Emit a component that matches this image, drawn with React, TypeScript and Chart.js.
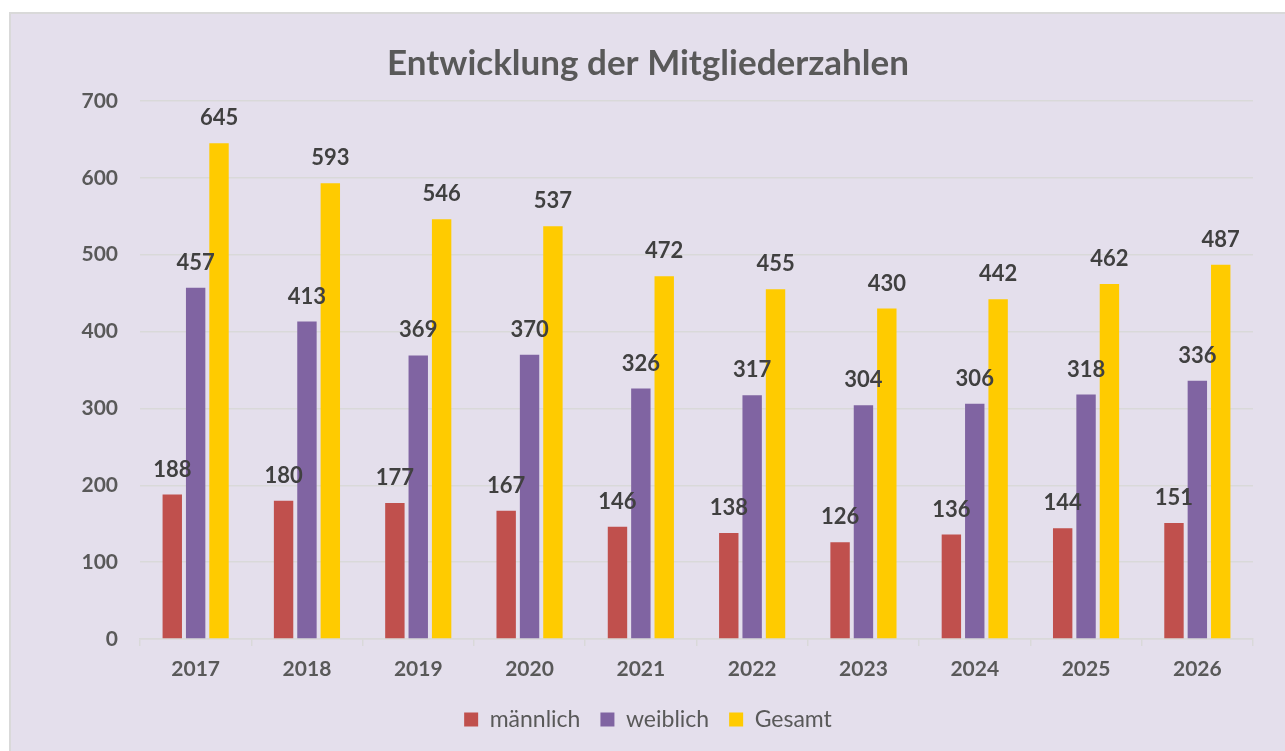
import React, { useEffect, useRef } from "react";
import { Chart, registerables } from "chart.js";

Chart.register(...registerables);

const years = ["2017", "2018", "2019", "2020", "2021", "2022", "2023", "2024", "2025", "2026"];
const maleValues = [188, 180, 177, 167, 146, 138, 126, 136, 144, 151];
const femaleValues = [457, 413, 369, 370, 326, 317, 304, 306, 318, 336];
const totalValues = [645, 593, 546, 537, 472, 455, 430, 442, 462, 487];
const seriesNames = ["männlich", "weiblich", "Gesamt"];
const titleText = "Entwicklung der Mitgliederzahlen";

const FONT = "Lato, 'Open Sans', sans-serif";

const valueLabels = {
  id: "valueLabels",
  afterDatasetsDraw(chart: any) {
    const ctx = chart.ctx;
    ctx.save();
    ctx.font = `bold 22px ${FONT}`;
    ctx.fillStyle = "#404040";
    ctx.textAlign = "center";
    ctx.textBaseline = "middle";
    chart.data.datasets.forEach((ds: any, i: number) => {
      const meta = chart.getDatasetMeta(i);
      meta.data.forEach((bar: any, j: number) => {
        ctx.fillText(String(ds.data[j]), bar.x, bar.y - 25);
      });
    });
    ctx.restore();
  },
};

export default function App() {
  const ref = useRef<HTMLCanvasElement>(null);
  useEffect(() => {
    if (!ref.current) return;
    const chart = new Chart(ref.current, {
      type: "bar",
      data: {
        labels: years,
        datasets: [
          { label: seriesNames[0], data: maleValues, backgroundColor: "#C0504D" },
          { label: seriesNames[1], data: femaleValues, backgroundColor: "#8064A2" },
          { label: seriesNames[2], data: totalValues, backgroundColor: "#FFCB00" },
        ],
      },
      options: {
        responsive: false,
        animation: false,
        layout: { padding: { left: 0, right: 0, top: 0, bottom: 10 } },
        datasets: { bar: { categoryPercentage: 0.63, barPercentage: 0.83 } },
        plugins: {
          title: {
            display: true,
            text: titleText,
            color: "#595959",
            font: { family: FONT, size: 35, weight: "bold" },
            padding: { top: 29, bottom: 16 },
          },
          legend: {
            position: "bottom",
            labels: {
              color: "#595959",
              font: { family: FONT, size: 23 },
              boxWidth: 14,
              boxHeight: 14,
              padding: 20,
            },
          },
          tooltip: { enabled: false },
        },
        scales: {
          x: {
            grid: {
              display: true,
              drawOnChartArea: false,
              drawTicks: true,
              tickLength: 7,
              color: "#D9D9D9",
              lineWidth: 1.5,
            },
            border: { display: true, color: "#D9D9D9", width: 1.5 },
            ticks: {
              color: "#595959",
              font: { family: FONT, size: 21, weight: "bold" },
              padding: 11,
            },
            afterFit: (scale: any) => {
              scale.height = 49;
            },
          },
          y: {
            min: 0,
            max: 700,
            ticks: {
              stepSize: 100,
              color: "#595959",
              font: { family: FONT, size: 21, weight: "bold" },
              padding: 22,
            },
            grid: { color: "#D9D9D9", lineWidth: 1.5, drawTicks: false },
            border: { display: false },
            afterFit: (scale: any) => {
              scale.width = 129;
            },
          },
          yRightSpacer: {
            type: "linear",
            position: "right",
            display: true,
            min: 0,
            max: 700,
            grid: { display: false, drawOnChartArea: false, drawTicks: false },
            border: { display: false },
            ticks: { display: false },
            afterFit: (scale: any) => {
              scale.width = 32;
            },
          },
        },
      },
      plugins: [valueLabels],
    });
    return () => chart.destroy();
  }, []);

  return (
    <div
      style={{
        position: "absolute",
        left: 9,
        top: 12,
        width: 1276,
        height: 739,
        boxSizing: "border-box",
        borderTop: "2px solid #D9D9D9",
        borderLeft: "2px solid #D9D9D9",
        background: "#E4DFEC",
      }}
    >
      <canvas ref={ref} width={1274} height={737} style={{ display: "block" }} />
    </div>
  );
}
